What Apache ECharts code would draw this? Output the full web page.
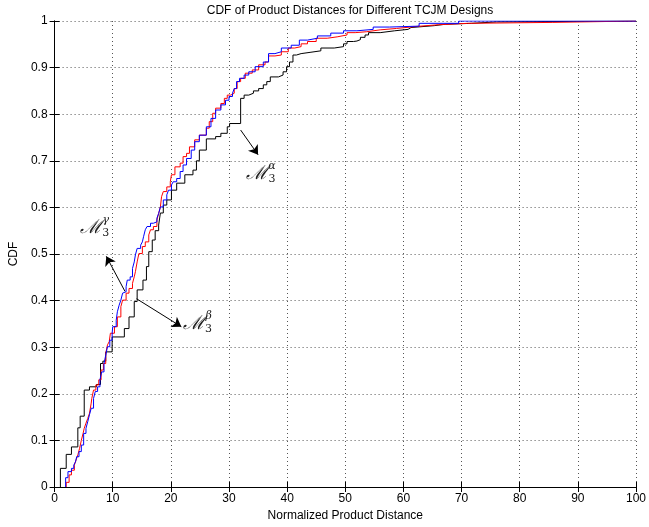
<!DOCTYPE html>
<html>
  <head>
    <meta charset="utf-8">
    <title>CDF of Product Distances</title>
    <style>
    html,body,#chart {
      margin: 0;
      padding: 0;
      width: 649px;
      height: 527px;
      background: #fff;
    }
    </style>
  </head>
  <body>
    <div id="chart"></div>
    <script src="https://cdn.jsdelivr.net/npm/echarts@6/dist/echarts.min.js"></script>
    <script type="text/javascript">
// step points [distance, cdf]
var alphaCdf = [[1.0,0],[1.0,0.04],[2.0,0.07],[2.9,0.086],[4.0,0.127],[4.4,0.152],[5.1,0.208],[6.0,0.215],[7.2,0.22],[7.9,0.265],[8.3,0.27],[8.8,0.29],[9.9,0.322],[12.0,0.34],[12.8,0.365],[13.7,0.398],[14.2,0.423],[15.2,0.444],[15.8,0.473],[16.2,0.505],[16.8,0.53],[17.3,0.55],[17.9,0.562],[18.2,0.588],[18.7,0.605],[19.3,0.616],[20.1,0.637],[21.0,0.652],[22.4,0.67],[23.8,0.68],[24.4,0.70],[24.9,0.723],[26.1,0.747],[27.7,0.752],[28.6,0.759],[29.7,0.773],[30.1,0.78],[32.0,0.834],[32.6,0.841],[33.4,0.845],[34.2,0.85],[35.1,0.855],[35.9,0.863],[36.5,0.87],[37.1,0.88],[38.5,0.884],[39.3,0.891],[39.9,0.902],[40.4,0.912],[41.0,0.927],[41.6,0.93],[42.4,0.933],[44.1,0.936],[45.8,0.942],[48.1,0.945],[49.7,0.951],[50.3,0.956],[51.4,0.957],[52.0,0.96],[52.6,0.965],[53.4,0.97],[54.0,0.975],[56.0,0.979],[58.5,0.982],[60.8,0.986],[61.3,0.99],[65.3,0.993],[67.2,0.995],[71.7,0.998],[76.0,1],[100,1]];
var betaCdf = [[2.0,0],[2.0,0.01],[2.5,0.026],[2.9,0.036],[3.4,0.047],[3.7,0.058],[4.0,0.069],[4.3,0.083],[4.6,0.1],[4.9,0.115],[5.1,0.126],[5.4,0.137],[5.7,0.147],[6.0,0.158],[6.3,0.18],[6.4,0.19],[6.7,0.208],[7.1,0.219],[7.6,0.23],[8.0,0.251],[8.4,0.265],[8.8,0.287],[9.1,0.305],[9.4,0.312],[9.6,0.33],[10.3,0.344],[10.8,0.365],[11.4,0.387],[11.7,0.401],[12.3,0.416],[12.8,0.426],[13.4,0.437],[13.7,0.451],[13.9,0.462],[14.2,0.483],[14.5,0.501],[15.1,0.516],[15.6,0.526],[16.2,0.541],[16.5,0.552],[17.0,0.559],[17.6,0.573],[17.9,0.587],[18.2,0.601],[18.4,0.623],[18.7,0.634],[19.3,0.644],[19.9,0.655],[20.1,0.67],[20.7,0.687],[21.6,0.695],[22.1,0.709],[22.7,0.716],[23.2,0.73],[24.1,0.745],[24.9,0.755],[26.1,0.77],[26.6,0.784],[27.2,0.802],[27.7,0.813],[28.6,0.823],[29.2,0.834],[29.7,0.841],[30.3,0.845],[30.9,0.855],[31.4,0.87],[32.0,0.877],[32.8,0.888],[34.0,0.895],[35.1,0.906],[36.2,0.912],[36.8,0.925],[37.9,0.927],[39.0,0.934],[40.2,0.942],[41.3,0.945],[42.4,0.951],[43.5,0.956],[45.0,0.963],[46.9,0.966],[48.6,0.97],[50.3,0.975],[51.7,0.977],[53.7,0.981],[56.0,0.984],[58.8,0.988],[62.0,0.992],[66.0,0.995],[71.0,0.997],[85.7,1],[100,1]];
var gammaCdf = [[1.9,0],[1.9,0.02],[2.3,0.033],[2.9,0.04],[3.3,0.047],[3.6,0.054],[3.8,0.065],[4.2,0.076],[4.6,0.09],[5.0,0.115],[5.4,0.126],[5.7,0.14],[6.0,0.155],[6.3,0.169],[6.7,0.19],[7.0,0.205],[7.4,0.215],[7.8,0.23],[8.1,0.247],[8.5,0.265],[8.8,0.283],[9.1,0.301],[9.5,0.315],[9.9,0.33],[10.0,0.344],[10.6,0.358],[10.8,0.376],[11.1,0.39],[11.4,0.401],[11.7,0.416],[12.0,0.419],[12.3,0.43],[12.5,0.444],[13.0,0.451],[13.4,0.469],[13.7,0.483],[13.9,0.498],[14.2,0.512],[14.8,0.519],[15.1,0.526],[15.3,0.537],[15.6,0.552],[15.9,0.559],[16.5,0.566],[17.0,0.569],[17.6,0.577],[17.9,0.587],[18.2,0.601],[18.7,0.616],[19.3,0.627],[19.6,0.637],[20.1,0.648],[20.4,0.655],[21.0,0.662],[21.6,0.677],[22.1,0.691],[22.7,0.705],[23.5,0.723],[24.1,0.741],[24.9,0.755],[26.1,0.773],[26.9,0.791],[27.7,0.809],[28.6,0.82],[29.4,0.83],[30.0,0.838],[30.6,0.845],[30.9,0.855],[31.3,0.87],[31.8,0.877],[32.6,0.884],[33.4,0.891],[34.5,0.902],[35.9,0.912],[36.8,0.93],[37.9,0.934],[39.0,0.942],[40.7,0.948],[42.1,0.959],[43.5,0.963],[45.2,0.968],[47.5,0.974],[49.7,0.979],[52.0,0.982],[54.8,0.987],[57.6,0.989],[62.7,0.995],[69.5,1],[100,1]];

// annotation arrows [from, to] and label anchors, in data units
var arrows = [
  [[32.0, 0.766], [35.0, 0.713]],
  [[12.1, 0.420], [8.9, 0.495]],
  [[14.1, 0.404], [21.8, 0.344]]
];
var labelNames = ['α', 'γ', 'β'];
var labelPos = [[35.5, 0.672], [6.9, 0.556], [24.6, 0.350]];

var font = 'Liberation Sans';
var chart = echarts.init(document.getElementById('chart'));

var hidden = {color: 'rgba(0,0,0,0)'};
var marks = labelPos.map(function (p, i) {
  return {
    coord: p,
    symbol: 'circle',
    symbolSize: 1,
    itemStyle: hidden,
    label: {
      show: true,
      position: 'inside',
      formatter: '{m|ℳ}{s|3}',
      rich: {
        m: {fontFamily: 'DejaVu Serif', fontStyle: 'italic', fontSize: 19, color: '#222'},
        s: {fontFamily: 'DejaVu Serif', fontSize: 11, color: '#222', padding: [11, 0, 0, 0]}
      }
    }
  };
}).concat(labelPos.map(function (p, i) {
  return {
    coord: p,
    symbol: 'circle',
    symbolSize: 1,
    itemStyle: hidden,
    label: {
      show: true,
      position: 'inside',
      offset: [11, -8],
      formatter: labelNames[i],
      fontFamily: 'DejaVu Serif',
      fontStyle: 'italic',
      fontSize: 11,
      color: '#222'
    }
  };
}));

function stepSeries(name, data, color, extra) {
  var s = {
    name: name,
    type: 'line',
    step: 'end',
    data: data,
    symbol: 'none',
    animation: false,
    lineStyle: {color: color, width: 1},
    itemStyle: {color: color}
  };
  if (extra) for (var k in extra) s[k] = extra[k];
  return s;
}

var gridLine = {show: true, lineStyle: {color: '#555', type: [1, 3], width: 1}};

chart.setOption({
  backgroundColor: '#fff',
  animation: false,
  title: {
    text: 'CDF of Product Distances for Different TCJM Designs',
    left: 345,
    top: 0,
    textAlign: 'center',
    textStyle: {fontFamily: font, fontSize: 12, fontWeight: 'normal', color: '#000'}
  },
  grid: {left: 49, right: 8, top: 21, bottom: 40},
  xAxis: [{
    type: 'value', min: 0, max: 100, interval: 10,
    name: 'Normalized Product Distance', nameLocation: 'middle', nameGap: 23,
    nameTextStyle: {fontFamily: font, fontSize: 12, color: '#000'},
    axisLine: {show: true, lineStyle: {color: '#000', width: 1}},
    axisTick: {show: true, inside: true, length: 5, lineStyle: {color: '#000'}},
    axisLabel: {fontFamily: font, fontSize: 12, color: '#000', margin: 6},
    splitLine: gridLine
  }, {
    type: 'value', min: 0, max: 100, interval: 10, position: 'top',
    axisLine: {show: true, lineStyle: {color: '#000', width: 1}},
    axisTick: {show: true, inside: true, length: 5, lineStyle: {color: '#000'}},
    axisLabel: {show: false}, splitLine: {show: false}
  }],
  yAxis: [{
    type: 'value', min: 0, max: 1, interval: 0.1,
    name: 'CDF', nameLocation: 'middle', nameGap: 33,
    nameTextStyle: {fontFamily: font, fontSize: 12, color: '#000'},
    axisLine: {show: true, lineStyle: {color: '#000', width: 1}},
    axisTick: {show: true, inside: true, length: 5, lineStyle: {color: '#000'}},
    axisLabel: {fontFamily: font, fontSize: 12, color: '#000', margin: 7},
    splitLine: gridLine
  }, {
    type: 'value', min: 0, max: 1, interval: 0.1, position: 'right',
    axisLine: {show: true, lineStyle: {color: '#000', width: 1}},
    axisTick: {show: true, inside: true, length: 5, lineStyle: {color: '#000'}},
    axisLabel: {show: false}, splitLine: {show: false}
  }],
  series: [
    stepSeries('alpha', alphaCdf, '#000000', {
      markLine: {
        silent: true,
        animation: false,
        symbol: ['none', 'arrow'],
        symbolSize: 9,
        label: {show: false},
        lineStyle: {color: '#000', width: 1, type: 'solid'},
        itemStyle: {color: '#000'},
        data: arrows.map(function (a) { return [{coord: a[0]}, {coord: a[1]}]; })
      },
      markPoint: {silent: true, animation: false, data: marks}
    }),
    stepSeries('beta', betaCdf, '#ff0000'),
    stepSeries('gamma', gammaCdf, '#0000ff')
  ]
});
    </script>
  </body>
</html>
